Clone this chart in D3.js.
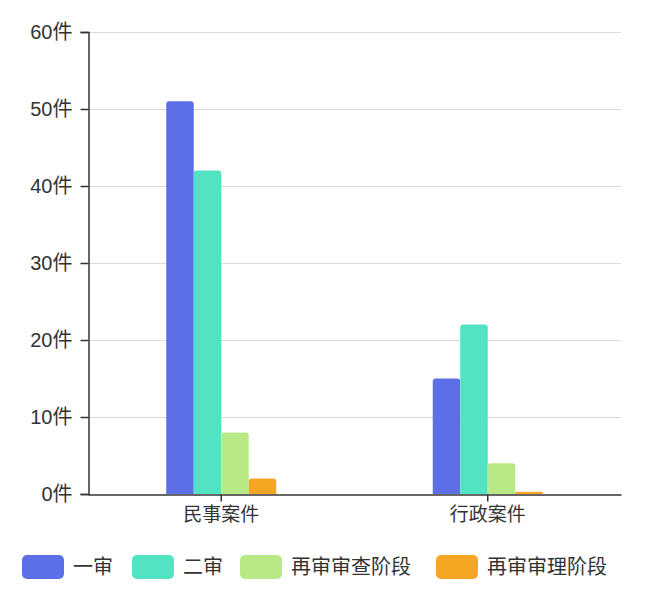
<!DOCTYPE html>
<html><head><meta charset="utf-8">
<script src="https://cdn.jsdelivr.net/npm/d3@7/dist/d3.min.js"></script>
<style>
html,body{margin:0;padding:0;background:#fff;}
svg{display:block;font-family:"Noto Sans CJK SC","Noto Sans",sans-serif;}
</style></head>
<body>
<svg id="chart" width="659" height="593"></svg>
<script>
const categories = ["民事案件", "行政案件"];
const seriesNames = ["一审", "二审", "再审审查阶段", "再审审理阶段"];
const seriesValues = [
  [51, 15],
  [42, 22],
  [8, 4],
  [2, 0.3]
];
const yTicks = [0, 10, 20, 30, 40, 50, 60];
const colors = ["#5c6fe6", "#52e3c2", "#b8e986", "#f5a623"];

(function () {
const svg = d3.select("#chart");
const mLeft = 88, mRight = 621, mTop = 32, mBottom = 494;

const x = d3.scaleBand().domain(categories).range([mLeft, mRight]).padding(0);
const groupW = 110;
const xs = d3.scaleBand().domain(seriesNames).range([0, groupW]).padding(0);
const y = d3.scaleLinear().domain([0, 60]).range([mBottom, mTop]);

// grid
svg.append("g").selectAll("line").data(yTicks.filter(d => d > 0)).join("line")
  .attr("x1", mLeft).attr("x2", mRight)
  .attr("y1", d => Math.round(y(d)) + 0.5).attr("y2", d => Math.round(y(d)) + 0.5)
  .attr("stroke", "#dadada").attr("stroke-width", 1);

// bars
const g = svg.append("g");
categories.forEach((c, ci) => {
  seriesNames.forEach((s, si) => {
    const v = seriesValues[si][ci];
    const x0 = x(c) + x.bandwidth() / 2 - groupW / 2 + xs(s);
    const w = xs.bandwidth();
    const y0 = y(v), h = mBottom - y0;
    const r = Math.min(3, h / 2, w / 2);
    const p = d3.path();
    p.moveTo(x0, mBottom);
    p.lineTo(x0, y0 + r);
    p.quadraticCurveTo(x0, y0, x0 + r, y0);
    p.lineTo(x0 + w - r, y0);
    p.quadraticCurveTo(x0 + w, y0, x0 + w, y0 + r);
    p.lineTo(x0 + w, mBottom);
    p.closePath();
    g.append("path").attr("d", p.toString()).attr("fill", colors[si]);
  });
});

const tickFont = "'Liberation Sans','Noto Sans CJK SC',sans-serif";

// y axis
const yAxis = d3.axisLeft(y).tickValues(yTicks).tickSize(8).tickPadding(8)
  .tickFormat(d => d + "件");
const ya = svg.append("g").attr("transform", `translate(${mLeft + 0.5},0)`).call(yAxis);
ya.select(".domain").attr("stroke", "#333").attr("stroke-width", 1.5);
ya.selectAll(".tick line").attr("stroke", "#333").attr("stroke-width", 1.5);
ya.selectAll(".tick text").attr("fill", "#333").style("font-size", "20px")
  .style("font-family", tickFont);

// x axis
const xAxis = d3.axisBottom(x).tickSize(7).tickPadding(6).tickSizeOuter(0);
const xa = svg.append("g").attr("transform", `translate(0,${mBottom + 0.5})`).call(xAxis);
xa.select(".domain").attr("stroke", "#333").attr("stroke-width", 1.5);
xa.selectAll(".tick line").attr("stroke", "#333").attr("stroke-width", 1.5);
xa.selectAll(".tick text").attr("fill", "#333").style("font-size", "19px")
  .style("font-family", "'Noto Sans CJK SC',sans-serif");

// legend
const legendX = [22, 132, 240, 436];
const lg = svg.append("g");
seriesNames.forEach((s, i) => {
  lg.append("rect").attr("x", legendX[i]).attr("y", 555).attr("width", 42).attr("height", 24)
    .attr("rx", 5).attr("fill", colors[i]);
  lg.append("text").attr("x", legendX[i] + 51).attr("y", 567).attr("dy", "0.35em")
    .attr("fill", "#333").style("font-size", "20px").text(s);
});
})();
</script>
</body></html>
